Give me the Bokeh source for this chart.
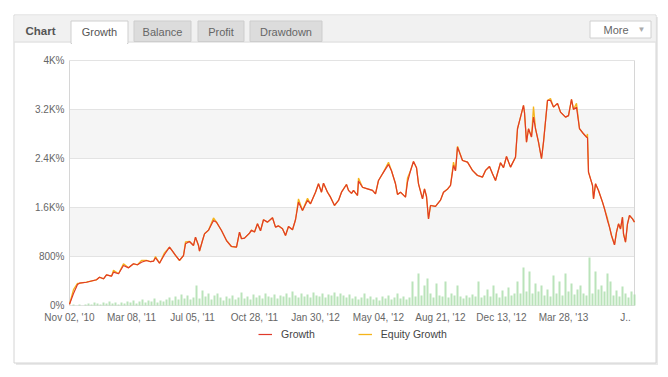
from bokeh.plotting import figure
from bokeh.models import Range1d, FixedTicker, Legend, LegendItem
from bokeh.core.properties import value
from bokeh.embed import file_html
from bokeh.resources import INLINE

# ---------------- data ----------------
growth_idx = [0, 4, 8, 10, 17, 27, 30, 34, 37, 42, 44, 49, 54, 59, 64, 68, 72, 77, 81, 84,
              86, 90, 95, 100, 103, 106, 110, 114, 116, 120, 124, 126, 129, 130, 133, 135, 139, 144, 147, 152,
              157, 162, 167, 170, 172, 175, 180, 182, 185, 188, 191, 194, 198, 203, 206, 209, 213, 216, 219, 223,
              226, 229, 233, 238, 241, 246, 249, 252, 254, 258, 261, 265, 269, 272, 277, 279, 282, 284, 288, 289,
              293, 298, 303, 306, 309, 313, 319, 322, 326, 328, 331, 336, 338, 341, 344, 347, 349, 353, 355, 357,
              359, 361, 366, 371, 374, 378, 381, 384, 386, 388, 393, 398, 403, 408, 413, 416, 420, 423, 426, 431,
              434, 437, 441, 446, 448, 451, 454, 455, 457, 459, 462, 464, 466, 469, 472, 474, 478, 481, 484, 488,
              491, 496, 499, 502, 504, 507, 510, 514, 517, 518, 519, 523, 524, 526, 529, 533, 535, 538, 540, 542,
              545, 547, 549, 551, 553, 554, 556, 558, 560, 563, 565]
growth_val = [20, 195, 343, 364, 380, 420, 462, 436, 501, 479, 544, 518, 653, 615, 681, 665, 707, 735, 715, 723,
              779, 691, 833, 952, 887, 820, 735, 816, 1007, 1045, 980, 1116, 980, 887, 1061, 1170, 1230, 1388, 1360, 1225,
              1061, 963, 952, 1197, 1090, 1100, 1181, 1230, 1200, 1334, 1220, 1400, 1361, 1432, 1279, 1300, 1252, 1143, 1290, 1236,
              1400, 1687, 1551, 1715, 1660, 1850, 1987, 1850, 1997, 1850, 1769, 1633, 1715, 1850, 1976, 1880, 1830, 1880, 1796, 2030,
              1930, 1905, 1880, 1823, 2041, 2150, 2303, 2200, 1987, 1813, 1850, 1769, 2014, 2200, 2352, 2250, 1987, 1742, 1905, 1780,
              1415, 1633, 1617, 1720, 1850, 1900, 1960, 2287, 2200, 2586, 2368, 2341, 2205, 2123, 2096, 2205, 2270, 2150, 2041, 2330,
              2250, 2433, 2259, 2422, 2886, 3075, 3267, 3150, 2667, 2886, 2750, 3075, 2886, 2667, 2396, 2667, 3348, 3348, 3239, 3300,
              3157, 3075, 3100, 3364, 3200, 3239, 2886, 2804, 2749, 2740, 2177, 1960, 1742, 1987, 1878, 1687, 1579, 1388, 1279, 1143,
              991, 1197, 1334, 1250, 1442, 1171, 1034, 1334, 1470, 1415, 1361]

# equity growth differs from growth only where the orange line shows
equity_diff_idx = [4, 8, 44, 54, 72, 86, 95, 116, 144, 229, 238, 289, 319, 338, 384, 388, 464, 481, 507, 518, 538]
equity_diff_val = [260, 360, 575, 680, 735, 800, 860, 1040, 1430, 1740, 1750, 2080, 2340, 2080, 2340, 2600, 3250, 3380, 3300, 2800, 1420]

vol_heights = [0, 1, 0, 1, 0, 1,
               2, 1, 3, 2, 1, 3, 2, 4, 2, 3, 1, 3, 2,
               4, 3, 5, 2, 4, 6, 3, 5, 4, 7, 3, 5, 4, 6, 8,
               5, 9, 6, 11, 7, 10, 6, 8,
               20, 7, 15,
               9, 12, 6, 10, 12, 8,
               5, 9, 7, 10, 6, 8, 13, 7,
               9, 6, 11, 8, 10, 7, 12, 9,
               8, 11, 7, 10, 9, 12, 8, 14,
               10, 8, 12, 9, 11, 8, 13, 10, 9, 12, 8, 11, 10, 13, 9, 12, 10, 8, 11,
               7, 9, 6, 8, 12, 7, 9, 6, 8, 5, 9, 7, 10, 6, 8, 12, 7, 9, 6, 8,
               24, 9, 32,
               10, 20, 27, 12,
               8, 22, 10, 9,
               24,
               8, 12, 10, 20,
               9, 7, 10, 8, 11, 9,
               24,
               8, 10, 16, 9, 20, 12, 8, 15,
               9, 18, 10, 12,
               24, 12, 38, 14, 34,
               12, 22, 14, 20, 10,
               16, 9, 30,
               12, 24, 10, 32,
               14, 22, 11, 16,
               20,
               12, 10,
               48,
               12, 34, 16,
               20, 14,
               32, 24,
               10, 15, 9, 19, 12, 8, 14, 11]

x_tick_pos = [0, 62, 123, 185, 246, 309, 371, 432, 494, 556]
x_tick_labels = ["Nov 02, '10", "Mar 08, '11", "Jul 05, '11", "Oct 28, '11", "Jan 30, '12",
                 "May 04, '12", "Aug 21, '12", "Dec 13, '12", "Mar 28, '13", "J.."]
y_ticks = [0, 800, 1600, 2400, 3200, 4000]
y_tick_labels = ["0%", "800%", "1.6K%", "2.4K%", "3.2K%", "4K%"]
tab_names = ["Growth", "Balance", "Profit", "Drawdown"]
series_names = ["Growth", "Equity Growth"]

eq_map = dict(zip(equity_diff_idx, equity_diff_val))
equity_val = [eq_map.get(i, v) for i, v in zip(growth_idx, growth_val)]
vol_x = [1 + 3 * k for k in range(len(vol_heights))]

# ---------------- layout geometry (pixels) ----------------
W, H = 668, 377
PL, PR, PT, PB = 69, 634, 60, 305          # plot area inside the canvas
XMAX = 565
YMAX = 4000
ypp = YMAX / (PB - PT)                     # value units per pixel
xpp = XMAX / (PR - PL)

p = figure(width=W, height=H, output_backend="svg", toolbar_location=None,
           x_range=Range1d(-PL * xpp, (W - PL) * xpp),
           y_range=Range1d(-(H - PB) * ypp, YMAX + PT * ypp),
           min_border=0, min_border_left=0, min_border_right=0,
           min_border_top=0, min_border_bottom=0,
           background_fill_color="white", border_fill_color="white")
p.outline_line_color = None
p.grid.visible = False
p.extra_x_ranges = {"px": Range1d(0, W)}
p.extra_y_ranges = {"py": Range1d(H, 0), "vol": Range1d(-(H - PB), PT + (PB - PT))}

FONT = "Liberation Sans"

# ---------------- panel decoration (canvas pixels) ----------------
def box(l, r, t, b, fill, line=None):
    p.quad(left=[l], right=[r], top=[t], bottom=[b], x_range_name="px", y_range_name="py",
           fill_color=fill, line_color=line, line_width=1)

box(15.5, 657.5, 16.5, 364.5, "#e9e9e9")              # shadow
box(13.5, 655.5, 14.5, 362.5, "white", "#d4d4d4")     # panel
box(14, 655, 15, 41, "#f1f1f1")                       # header
box(14, 655, 41, 42, "#d6d6d6")                       # header rule
tab_lr = [(70.5, 127.5), (133.5, 190.5), (197.5, 243.5), (249.5, 321.5)]
for i, (l, r) in enumerate(tab_lr):
    if i == 0:
        box(l, r, 20.5, 43, "white", "#cfcfcf")
        box(l + 1, r - 1, 40, 44, "white")
    else:
        box(l, r, 20.5, 41, "#dcdcdc", "#cdcdcd")
box(589.5, 650.5, 20.5, 37.5, "white", "#d0d0d0")      # More button

def ptext(texts, xs, ys, size="11px", color="#555555", align="center", style="normal"):
    p.text(x=xs, y=ys, text=texts, x_range_name="px", y_range_name="py",
           text_font=value(FONT), text_font_size=size, text_color=color,
           text_align=align, text_baseline="middle", text_font_style=style)

ptext(["Chart"], [25], [30], size="11.5px", color="#555555", align="left", style="bold")
ptext(tab_names[:1], [(tab_lr[0][0] + tab_lr[0][1]) / 2], [31], color="#555555")
ptext(tab_names[1:], [(l + r) / 2 for l, r in tab_lr[1:]], [31] * 3, color="#666666")
ptext(["More"], [603], [29], color="#666666", align="left")
ptext(["\u25BC"], [641], [29], size="8px", color="#aaaaaa")

# ---------------- grid bands, grid lines, borders ----------------
p.quad(left=0, right=XMAX, bottom=y_ticks[1:-1:2], top=y_ticks[2::2],
       fill_color="#f5f5f5", line_color=None)
p.segment(x0=0, x1=XMAX, y0=y_ticks, y1=y_ticks, line_color="#e3e3e3", line_width=1)
p.segment(x0=[0, XMAX], x1=[0, XMAX], y0=0, y1=YMAX, line_color="#d6d6d6", line_width=1)

# ---------------- axes (fixed inside the canvas) ----------------
p.xaxis.fixed_location = 0
p.yaxis.fixed_location = 0
p.xaxis.bounds = (0, XMAX)
p.yaxis.bounds = (0, YMAX)
p.xaxis.ticker = FixedTicker(ticks=x_tick_pos)
p.xaxis.major_label_overrides = {t: s for t, s in zip(x_tick_pos, x_tick_labels)}
p.yaxis.ticker = FixedTicker(ticks=y_ticks)
p.yaxis.major_label_overrides = {t: s for t, s in zip(y_ticks, y_tick_labels)}
for ax in (p.xaxis, p.yaxis):
    ax.axis_line_color = None
    ax.major_tick_line_color = None
    ax.minor_tick_line_color = None
    ax.major_tick_out = 0
    ax.major_tick_in = 0
    ax.minor_tick_out = 0
    ax.minor_tick_in = 0
    ax.major_label_text_font = FONT
    ax.major_label_text_font_size = "10px"
    ax.major_label_text_color = "#666666"
p.yaxis.major_label_standoff = 5
p.xaxis.major_label_standoff = 6

# ---------------- data glyphs ----------------
p.vbar(x=vol_x, top=vol_heights, bottom=0, width=2.0 * xpp, y_range_name="vol",
       fill_color="#a9dca9", line_color=None, fill_alpha=0.8)
r_eq = p.line(growth_idx, equity_val, line_color="#f5b41a", line_width=1.3)
r_gr = p.line(growth_idx, growth_val, line_color="#e03a2a", line_width=1.2)

legend = Legend(items=[LegendItem(label=series_names[0], renderers=[r_gr]),
                       LegendItem(label=series_names[1], renderers=[r_eq])],
                location=(258, H - 340), orientation="horizontal",
                label_text_font=FONT, label_text_font_size="10.5px", label_text_color="#444444",
                glyph_width=14, glyph_height=12, label_standoff=9, spacing=43,
                padding=0, margin=0, border_line_color=None, background_fill_alpha=0.0)
p.add_layout(legend)

open("out.html", "w").write(file_html(p, INLINE))
